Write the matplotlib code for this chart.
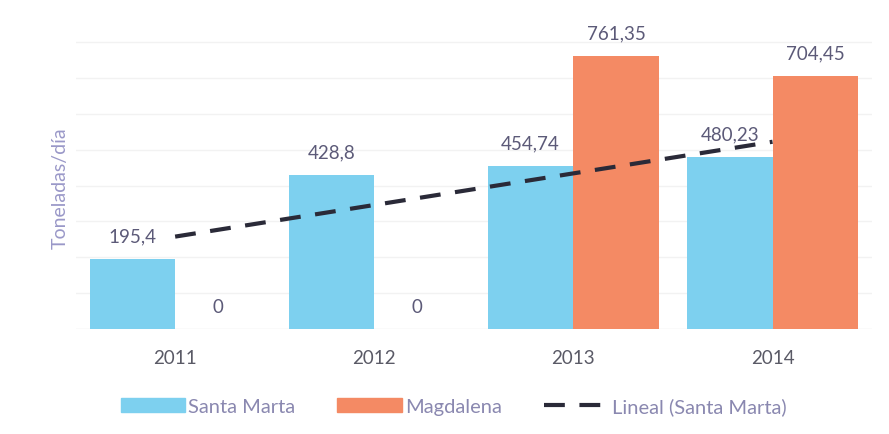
import matplotlib.pyplot as plt
import matplotlib.patches as mpatches
from matplotlib.lines import Line2D
import numpy as np

# Data
years = ['2011', '2012', '2013', '2014']
santa_marta = [195.4, 428.8, 454.74, 480.23]
magdalena = [0, 0, 761.35, 704.45]

c_sm = '#7dd0ef'
c_mg = '#f48a64'
txt = '#5c5a78'

plt.rcParams['font.family'] = ['Lato', 'DejaVu Sans']

fig = plt.figure(figsize=(8.89, 4.35), dpi=100)
ax = fig.add_axes([0.085, 0.241, 0.896, 0.743])

x = np.arange(len(years))
w = 0.43
b1 = ax.bar(x - w / 2, santa_marta, w, color=c_sm, zorder=2)
b2 = ax.bar(x + w / 2, magdalena, w, color=c_mg, zorder=2)

# linear trend of Santa Marta, drawn at category centres
coef = np.polyfit(x, santa_marta, 1)
ax.plot(x, np.polyval(coef, x), color='#2a2a38', lw=3, ls=(0, (5, 3.5)),
        zorder=3, solid_capstyle='butt')

# value labels
for bars, vals in ((b1, santa_marta), (b2, magdalena)):
    for r, v in zip(bars, vals):
        lab = f'{v:g}'.replace('.', ',')
        ax.annotate(lab, (r.get_x() + r.get_width() / 2, v), xytext=(0, 16.5),
                    textcoords='offset points', ha='center', va='center',
                    fontsize=13.5, color=txt)

ax.set_xlim(-0.5, 3.5)
ax.set_ylim(0, 900)
ax.set_yticks(range(0, 900, 100))
ax.set_yticklabels([])
ax.tick_params(axis='y', length=0)
ax.grid(axis='y', color='#f2f2f2', lw=1, zorder=0)
ax.set_xticks(x)
ax.set_xticklabels(years, fontsize=13.5, color='#5a5a66')
ax.tick_params(axis='x', length=0, pad=14)
for s in ax.spines.values():
    s.set_visible(False)
ax.axhline(0, color='#f2f2f2', lw=1, zorder=1)

ax.set_ylabel('Toneladas/día', fontsize=14, color='#9a98c8')
ax.yaxis.set_label_coords(-0.008, 0.44)

handles = [mpatches.Patch(color=c_sm, label='Santa Marta'),
           mpatches.Patch(color=c_mg, label='Magdalena'),
           Line2D([0], [0], color='#2a2a38', lw=3, ls=(0, (5, 3.5)),
                  label='Lineal (Santa Marta)')]
leg = fig.legend(handles=handles, loc='center', bbox_to_anchor=(0.51, 0.064),
                 ncol=3, frameon=False, fontsize=14.5, handlelength=3.2,
                 handleheight=0.75, columnspacing=2.1, handletextpad=0.15)
for t in leg.get_texts():
    t.set_color('#8a88b0')

fig.savefig('out.png', dpi=100)
